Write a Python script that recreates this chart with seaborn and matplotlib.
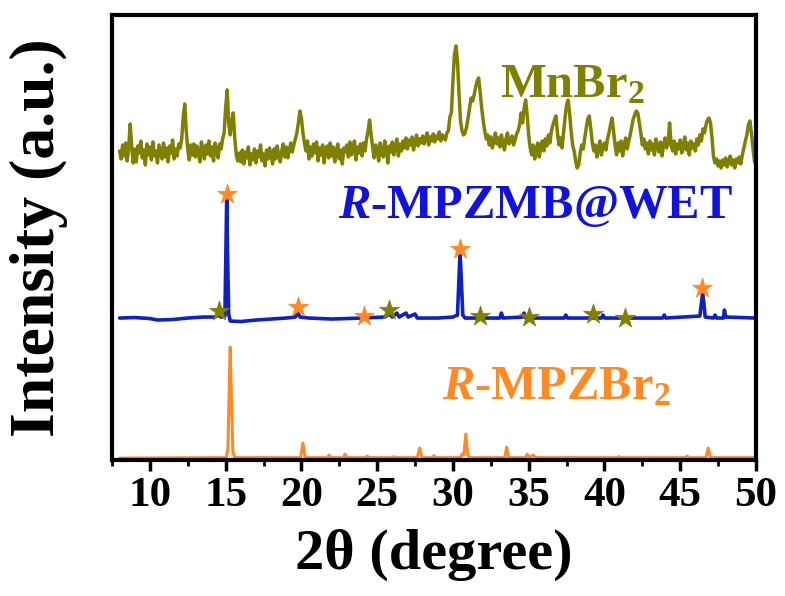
import numpy as np
import pandas as pd
import matplotlib
matplotlib.use("Agg")
import matplotlib.pyplot as plt
import seaborn as sns

# ---------------- data ----------------
# MnBr2 pattern, sampled every 0.1 deg from 8.0 to 50.0 (relative intensity)
mnbr2_start, mnbr2_step = 8.0, 0.1
mnbr2_int = [
    2, -6, 8, -3, 10, -8, 5, 29, 6, -10,
    4, -9, 7, 0, 12, -5, 3, -12, 9, -2,
    6, -7, 11, -3, 2, -10, 8, 1, -6, 10,
    -4, 5, -9, 7, 0, 13, -6, 4, -3, 9,
    5, 14, 36, 49, 22, 3, -7, 8, -2, 9,
    -4, 7, 1, -9, 11, 3, -6, 8, -1, 12,
    -3, 6, -8, 10, 2, -5, 9, 4, 14, 20,
    45, 63, 30, 18, 32, 40, 15, -2, -8, 0,
    -9, 3, -11, 1, -5, 6, -12, -1, -7, 4,
    -10, 2, -4, 8, -8, -1, -13, 3, -6, 5,
    -3, -11, 4, -6, 7, -2, -9, 2, 9, -4,
    6, -5, 3, 10, 1, 8, 14, 20, 30, 42,
    35, 20, 10, 2, 12, -6, 6, -3, 9, 0,
    11, -8, 5, -2, 8, -10, 4, 7, -5, 10,
    -3, 6, -9, 2, 9, -6, 3, -11, 5, 1,
    8, -4, 11, -2, 4, 12, -7, 6, 0, 9,
    -3, 10, 2, 14, 22, 33, 18, 6, -5, 8,
    2, -8, 10, 0, -4, 12, 4, -10, 7, 1,
    11, -2, 6, 14, -3, 9, 2, 12, 5, 15,
    4, 13, 8, 16, 3, 11, 18, 7, 14, 10,
    17, 9, 15, 20, 8, 16, 12, 19, 11, 17,
    14, 21, 12, 18, 16, 13, 20, 22, 36, 40,
    72, 98, 107, 92, 60, 32, 22, 18, 20, 26,
    35, 45, 55, 52, 58, 66, 72, 75, 60, 45,
    32, 22, 14, 18, 8, 16, 5, 12, 20, 9,
    15, 6, 18, 10, 3, 14, 20, 9, 12, 17,
    8, 13, 19, 22, 28, 40, 30, 45, 53, 38,
    18, 5, -2, 8, -6, 3, 10, -4, 6, 12,
    2, 14, 7, 18, 10, 22, 28, 33, 37, 20,
    8, 15, 5, 20, 35, 48, 53, 40, 22, 8,
    2, -8, -15, -12, 0, 8, 4, 15, 25, 34,
    37, 24, 10, 2, 8, -4, 5, 12, -2, 6,
    10, 3, 14, 20, 28, 35, 22, 8, -2, 10,
    2, 12, -3, 8, 15, 4, 11, 18, 26, 34,
    38, 42, 40, 30, 20, 8, 14, 4, 10, -1,
    12, 3, 9, -2, 14, 6, 1, 11, -3, 8,
    15, 5, 10, 30, 8, 2, 12, -1, 9, 4,
    13, 0, 7, 16, 3, 10, -2, 12, 5, 9,
    2, 14, 8, 18, 12, 24, 20, 28, 33, 35,
    30, 15, -4, -10, -6, -13, -8, -15, -7, -12,
    -5, -14, -9, -3, -12, -7, -15, -6, -10, -4,
    -11, -2, 5, 12, 18, 28, 32, 20, 5, -8,
    -12,
]

# R-MPZMB@WET pattern (vertices)
wet_2theta = [8.0, 9.0, 10.0, 10.5, 11.5, 12.5, 13.5, 14.3, 14.5, 14.7, 14.95,
              15.02, 15.07, 15.12, 15.2, 15.3, 16.0, 17.0, 18.0, 19.0, 19.6,
              19.75, 19.9, 20.5, 22.0, 24.0, 25.5, 25.8, 26.0, 26.3, 26.45,
              26.9, 27.05, 27.5, 27.65, 29.0, 30.0, 30.3, 30.4, 30.47, 30.55,
              30.65, 30.8, 33.1, 33.2, 33.3, 34.6, 34.7, 34.8, 37.35, 37.45,
              37.55, 39.8, 39.9, 40.0, 43.85, 43.95, 44.05, 46.3, 46.4, 46.48,
              46.56, 46.65, 47.2, 47.3, 47.4, 47.85, 47.92, 48.0, 50.0]
wet_int = [0, 0.5, -0.5, -2, -1.5, 0, 1, 1, 3, 1, 2,
           70, 120, 70, 4, -3, -3.5, -2, -1, 0, 1,
           6, 1, 0, -1, 0, 1, 4, 1, 5, 1,
           5, 1, 4, 0, 0, 1, 3, 40, 65, 40,
           3, 0, 0, 5, 0, 1, 5, 0, 0, 3,
           0, 0, 3, 0, 0, 3, 0, 2, 15, 24,
           15, 1, 0, 3, 0, 0, 8, 1, 0]

# R-MPZBr2 pattern (vertices)
pzb_2theta = [8.0, 14.9, 15.05, 15.15, 15.22, 15.3, 15.38, 15.48, 15.6, 19.95,
              20.1, 20.25, 21.7, 21.83, 21.95, 22.8, 22.87, 22.93, 23.0, 24.25,
              24.35, 24.45, 26.0, 26.1, 26.2, 27.65, 27.8, 27.95, 28.65, 28.74,
              28.83, 30.5, 30.6, 30.72, 30.85, 30.98, 31.1, 33.42, 33.55, 33.68,
              34.8, 34.9, 35.05, 35.3, 35.45, 40.85, 40.95, 41.05, 45.37, 45.47,
              45.57, 46.7, 46.85, 47.0, 50.0]
pzb_int = [0, 0.5, 1, 10, 60, 111, 60, 6, 0.5, 0.5,
           15, 0.5, 0.5, 3, 0.5, 0.5, 4, 2.5, 0.5, 0.5,
           2, 0.5, 0.5, 1.5, 0.5, 0.5, 10, 0.5, 0.5, 2.5,
           0.5, 0.5, 4, 3, 24, 3, 0.5, 0.5, 11, 0.5,
           0.5, 4, 1, 3, 0.5, 0.5, 1.5, 0.5, 0.5, 2,
           0.5, 0.5, 10, 0.5, 0.5]

# vertical offsets of the stacked patterns
offset_mnbr2, offset_wet, offset_pzb = 307, 142, 2

# star markers on the R-MPZMB@WET pattern
star_pzb_x = [15.07, 19.78, 24.14, 30.45, 46.45]
star_pzb_y = [266, 153, 144, 211, 172]
star_mn_x = [14.57, 25.78, 31.76, 35.05, 39.24, 41.35]
star_mn_y = [149, 150, 144, 143, 146, 142]

labels = ["MnBr$_2$", "$\\mathit{R}$-MPZMB@WET", "$\\mathit{R}$-MPZBr$_2$"]
xticks = [10, 15, 20, 25, 30, 35, 40, 45, 50]

# ---------------- styling ----------------
c_olive = "#808000"
c_blue = "#0F21C4"
c_blue_txt = "#1212DD"
c_orange = "#FF8A24"

sns.set_theme(style="white")
plt.rcParams["font.family"] = ["Liberation Serif", "DejaVu Serif"]
plt.rcParams["font.weight"] = "bold"
plt.rcParams["mathtext.fontset"] = "custom"
plt.rcParams["mathtext.rm"] = "Liberation Serif:bold"
plt.rcParams["mathtext.it"] = "Liberation Serif:italic:bold"
plt.rcParams["mathtext.bf"] = "Liberation Serif:bold"
plt.rcParams["mathtext.default"] = "rm"
plt.rcParams["text.color"] = "black"
plt.rcParams["axes.labelcolor"] = "black"
plt.rcParams["xtick.color"] = "black"

fig = plt.figure(figsize=(7.85, 5.96), dpi=100)
ax = fig.add_axes([0.1427, 0.228, 0.8203, 0.747])

mn_x = mnbr2_start + mnbr2_step * np.arange(len(mnbr2_int))
df_mn = pd.DataFrame({"x": mn_x, "y": np.array(mnbr2_int) + offset_mnbr2})
df_wet = pd.DataFrame({"x": wet_2theta, "y": np.array(wet_int) + offset_wet})
df_pzb = pd.DataFrame({"x": pzb_2theta, "y": np.array(pzb_int) + offset_pzb})

sns.lineplot(data=df_mn, x="x", y="y", ax=ax, color=c_olive, lw=2.5,
             estimator=None, sort=False)
sns.lineplot(data=df_wet, x="x", y="y", ax=ax, color=c_blue, lw=2.6,
             estimator=None, sort=False)
sns.lineplot(data=df_pzb, x="x", y="y", ax=ax, color=c_orange, lw=2.2,
             estimator=None, sort=False)

sns.scatterplot(x=star_mn_x, y=star_mn_y, ax=ax, marker="*", s=230,
                color=c_olive, edgecolor=c_olive, linewidth=0.5, zorder=5)
sns.scatterplot(x=star_pzb_x, y=star_pzb_y, ax=ax, marker="*", s=230,
                color=c_orange, edgecolor=c_orange, linewidth=0.5, zorder=5)

ax.text(33.1, 375, labels[0], color=c_olive, fontsize=35, fontweight="bold",
        ha="left", va="center")
ax.text(22.4, 253, labels[1], color=c_blue_txt, fontsize=35, fontweight="bold",
        ha="left", va="center")
ax.text(29.3, 73, labels[2], color=c_orange, fontsize=35, fontweight="bold",
        ha="left", va="center")

ax.set_xlim(8, 50)
ax.set_ylim(0, 445)
ax.set_xticks(xticks)
ax.set_xticklabels([str(t) for t in xticks])
ax.set_xticks(np.arange(7.5, 50.1, 2.5), minor=True)
ax.set_yticks([])
ax.tick_params(axis="x", which="major", direction="out", length=8, width=2.5,
               labelsize=31, pad=4, bottom=True, colors="black")
ax.tick_params(axis="x", which="minor", direction="out", length=4, width=2.0,
               bottom=True, colors="black")
for lab in ax.get_xticklabels():
    lab.set_fontweight("bold")
for sp in ax.spines.values():
    sp.set_linewidth(3)
    sp.set_color("black")
    sp.set_visible(True)

ax.set_xlabel("2θ (degree)", fontsize=42, fontweight="bold", labelpad=10,
              color="black")
ax.set_ylabel("Intensity (a.u.)", fontsize=46, fontweight="bold", labelpad=32,
              color="black")

fig.savefig("out.png", dpi=100)
